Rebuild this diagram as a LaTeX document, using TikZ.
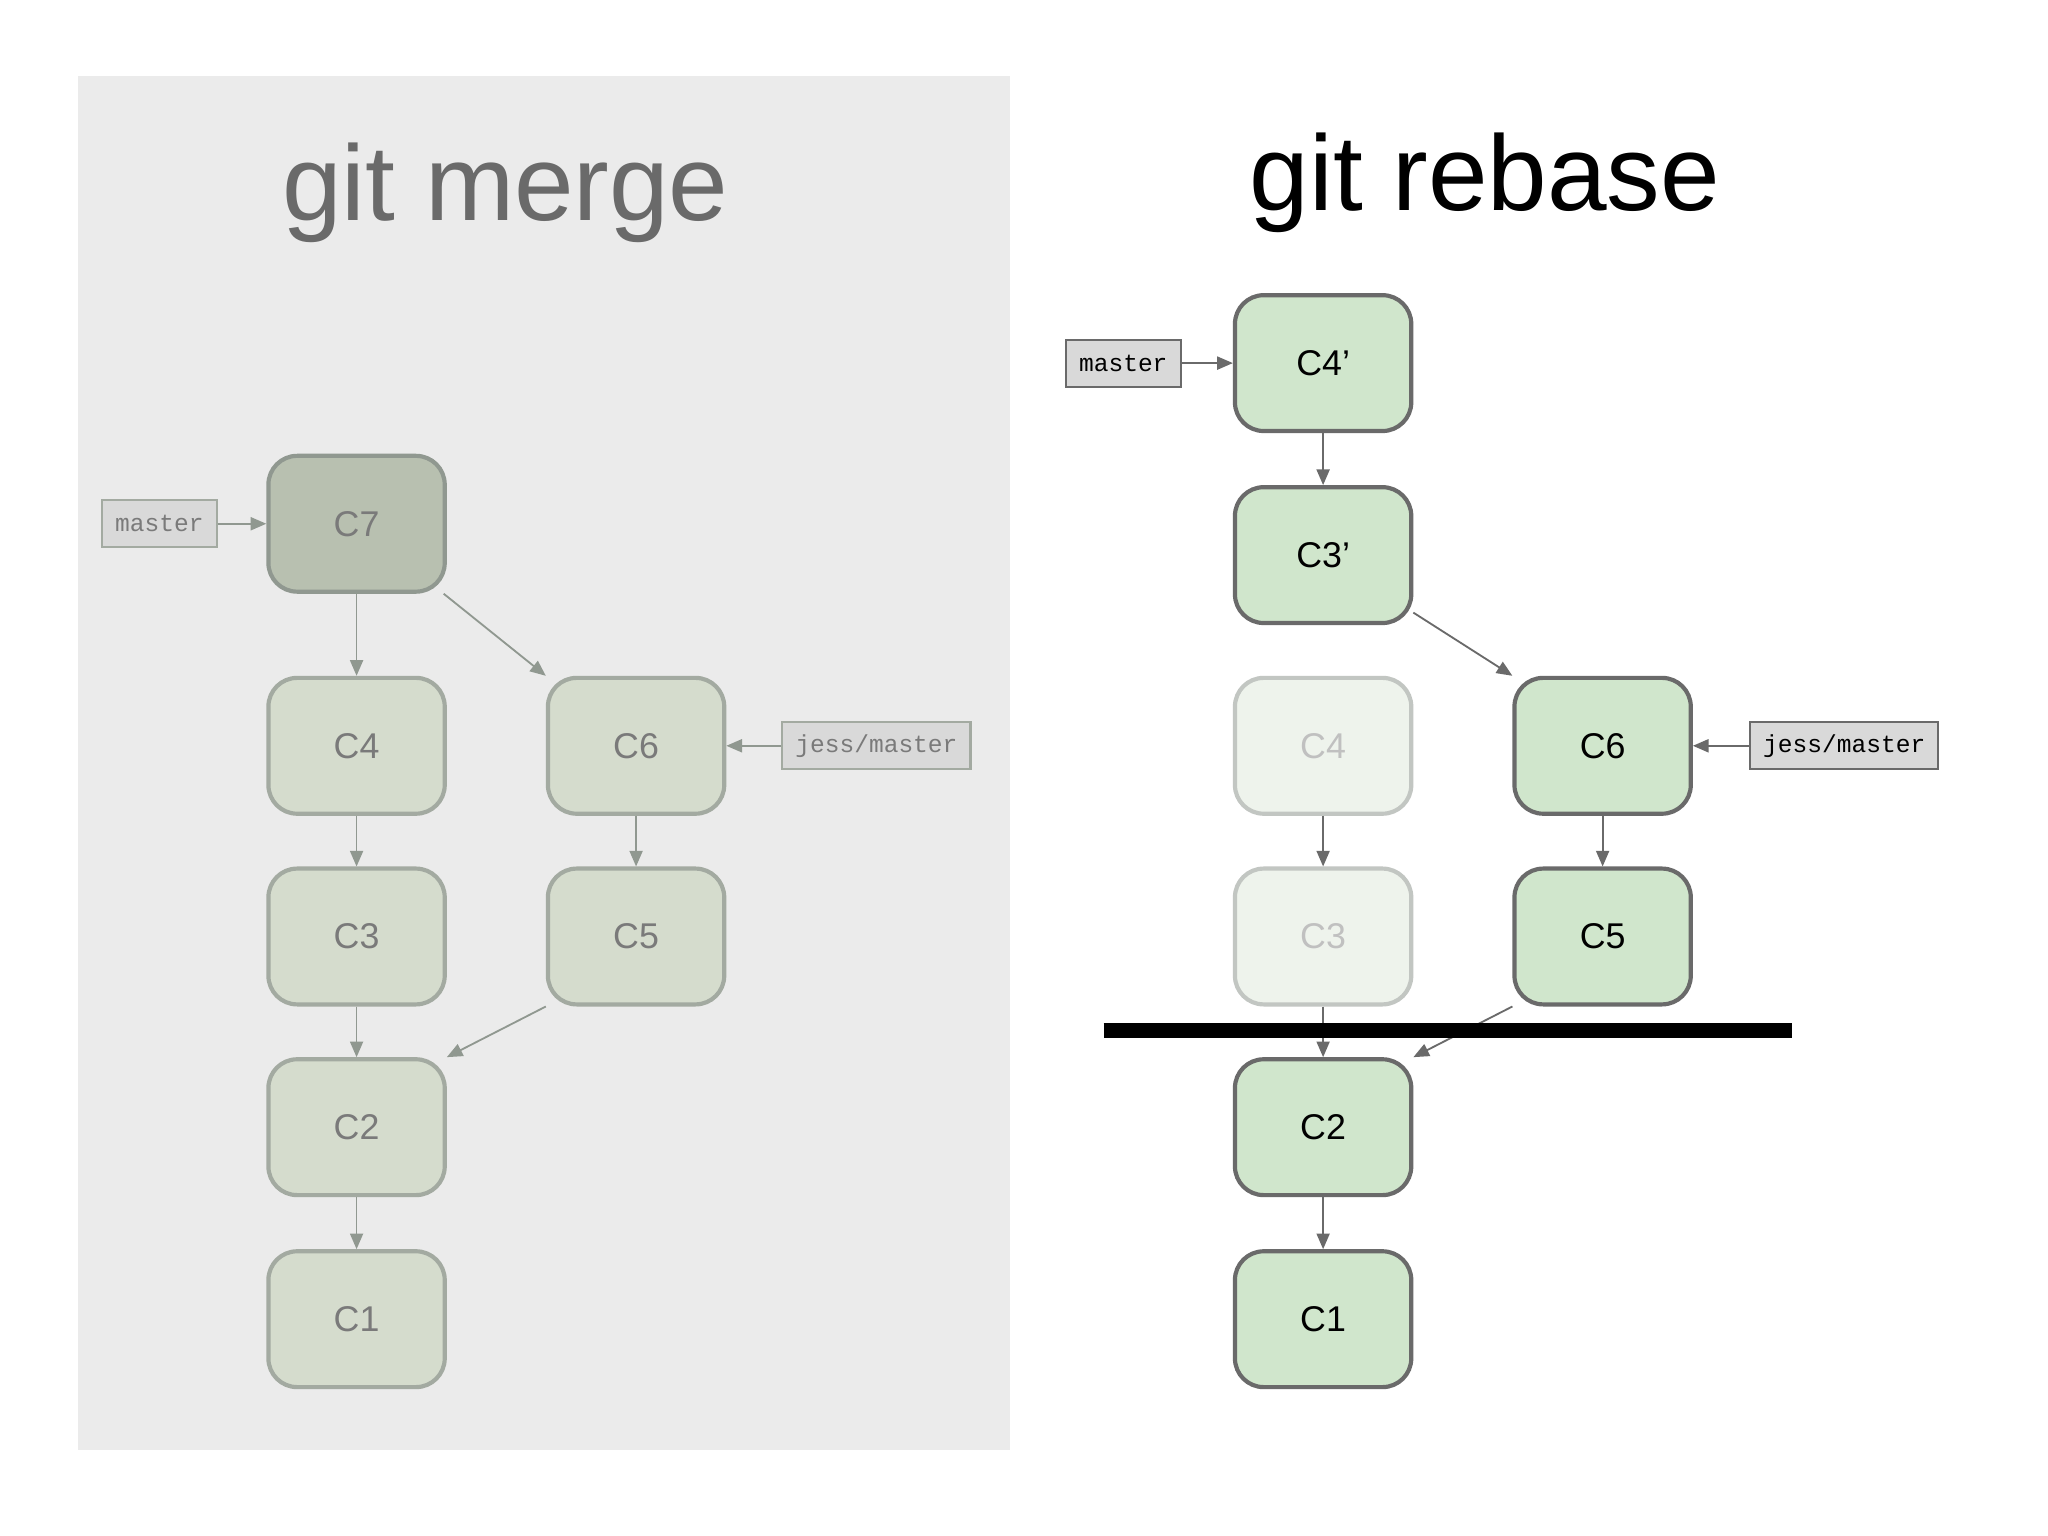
\documentclass[tikz,border=0pt]{standalone}
\usepackage{fontspec}
\setmainfont{Liberation Sans}
\newfontfamily\monof{Liberation Mono}
\usetikzlibrary{arrows.meta}
\definecolor{panel}{HTML}{EBEBEB}
\definecolor{oldfill}{HTML}{D5DCCD}\definecolor{oldline}{HTML}{A3AAA1}\definecolor{oldtext}{HTML}{7A7A7A}
\definecolor{c7fill}{HTML}{B8C0B0}\definecolor{c7line}{HTML}{909890}
\definecolor{newfill}{HTML}{D0E6CC}\definecolor{newline}{HTML}{6A6A6A}
\definecolor{ghfill}{HTML}{EEF3EC}\definecolor{ghline}{HTML}{C2C6C2}\definecolor{ghtext}{HTML}{C0C0C0}
\definecolor{reffill}{HTML}{D9D9D9}
\begin{document}
\begin{tikzpicture}[x=0.5pt,y=-0.5pt,
  commit/.style={draw, rounded corners=11pt, minimum width=67.5pt, minimum height=52pt, line width=1.6pt, font=\fontsize{13.7}{16}\selectfont, inner sep=0pt},
  oldc/.style={commit, fill=oldfill, draw=oldline, text=oldtext},
  newc/.style={commit, fill=newfill, draw=newline, text=black},
  ghost/.style={commit, fill=ghfill, draw=ghline, text=ghtext},
  ref/.style={draw, line width=0.8pt, fill=reffill, font=\monof\fontsize{9.4}{11}\selectfont, minimum height=18pt, inner xsep=4pt, inner sep=0pt},
  arr/.style={-{Triangle[length=6pt,width=5pt]}, line width=0.7pt},
  oarr/.style={arr, draw=c7line, fill=c7line},
  narr/.style={arr, draw=newline, fill=newline},
]
\useasboundingbox[fill=white] (0,0) rectangle (1568,1176);
\fill[panel] (60,58) rectangle (773,1110);
\node[text=newline, font=\fontsize{41}{45}\selectfont] (t1) at (387,148) {git merge};
\node[font=\fontsize{41}{45}\selectfont] (t2) at (1137,140) {git rebase};
% left
\node[oldc, fill=c7fill, draw=c7line] (l7) at (273,401) {C7};
\node[oldc] (l4) at (273,571) {C4};
\node[oldc] (l3) at (273,717) {C3};
\node[oldc] (l2) at (273,863) {C2};
\node[oldc] (l1) at (273,1010) {C1};
\node[oldc] (l6) at (487,571) {C6};
\node[oldc] (l5) at (487,717) {C5};
\node[ref, draw=oldline, text=oldtext, minimum width=44pt] (lm) at (122,401) {master};
\node[ref, draw=oldline, text=oldtext, minimum width=72pt] (lj) at (671,571) {jess/master};
\draw[oarr] (lm) -- (l7);
\draw[oarr] (l7) -- (l4);
\draw[oarr] (l4) -- (l3);
\draw[oarr] (l3) -- (l2);
\draw[oarr] (l2) -- (l1);
\draw[oarr] (l6) -- (l5);
\draw[oarr] (l7) -- (l6.north west);
\draw[oarr] (l5.south west) -- (l2.north east);
\draw[oarr] (lj) -- (l6);
% right
\node[newc] (r4p) at (1013,278) {C4'};
\node[newc] (r3p) at (1013,425) {C3'};
\node[ghost] (r4) at (1013,571) {C4};
\node[ghost] (r3) at (1013,717) {C3};
\node[newc] (r2) at (1013,863) {C2};
\node[newc] (r1) at (1013,1010) {C1};
\node[newc] (r6) at (1227,571) {C6};
\node[newc] (r5) at (1227,717) {C5};
\node[ref, minimum width=44pt, draw=newline] (rm) at (860,278) {master};
\node[ref, minimum width=72pt, draw=newline] (rj) at (1412,571) {jess/master};
\draw[narr] (rm) -- (r4p);
\draw[narr] (r4p) -- (r3p);
\draw[narr] (r3p) -- (r6.north west);
\draw[narr] (r4) -- (r3);
\draw[narr] (r3) -- (r2);
\draw[narr] (r2) -- (r1);
\draw[narr] (r6) -- (r5);
\draw[narr] (r5.south west) -- (r2.north east);
\draw[narr] (rj) -- (r6);
\coordinate (b1) at (845,789);
\coordinate (b2) at (1372,789);
\draw[line width=6pt] (b1) -- (b2);
\end{tikzpicture}
\end{document}
